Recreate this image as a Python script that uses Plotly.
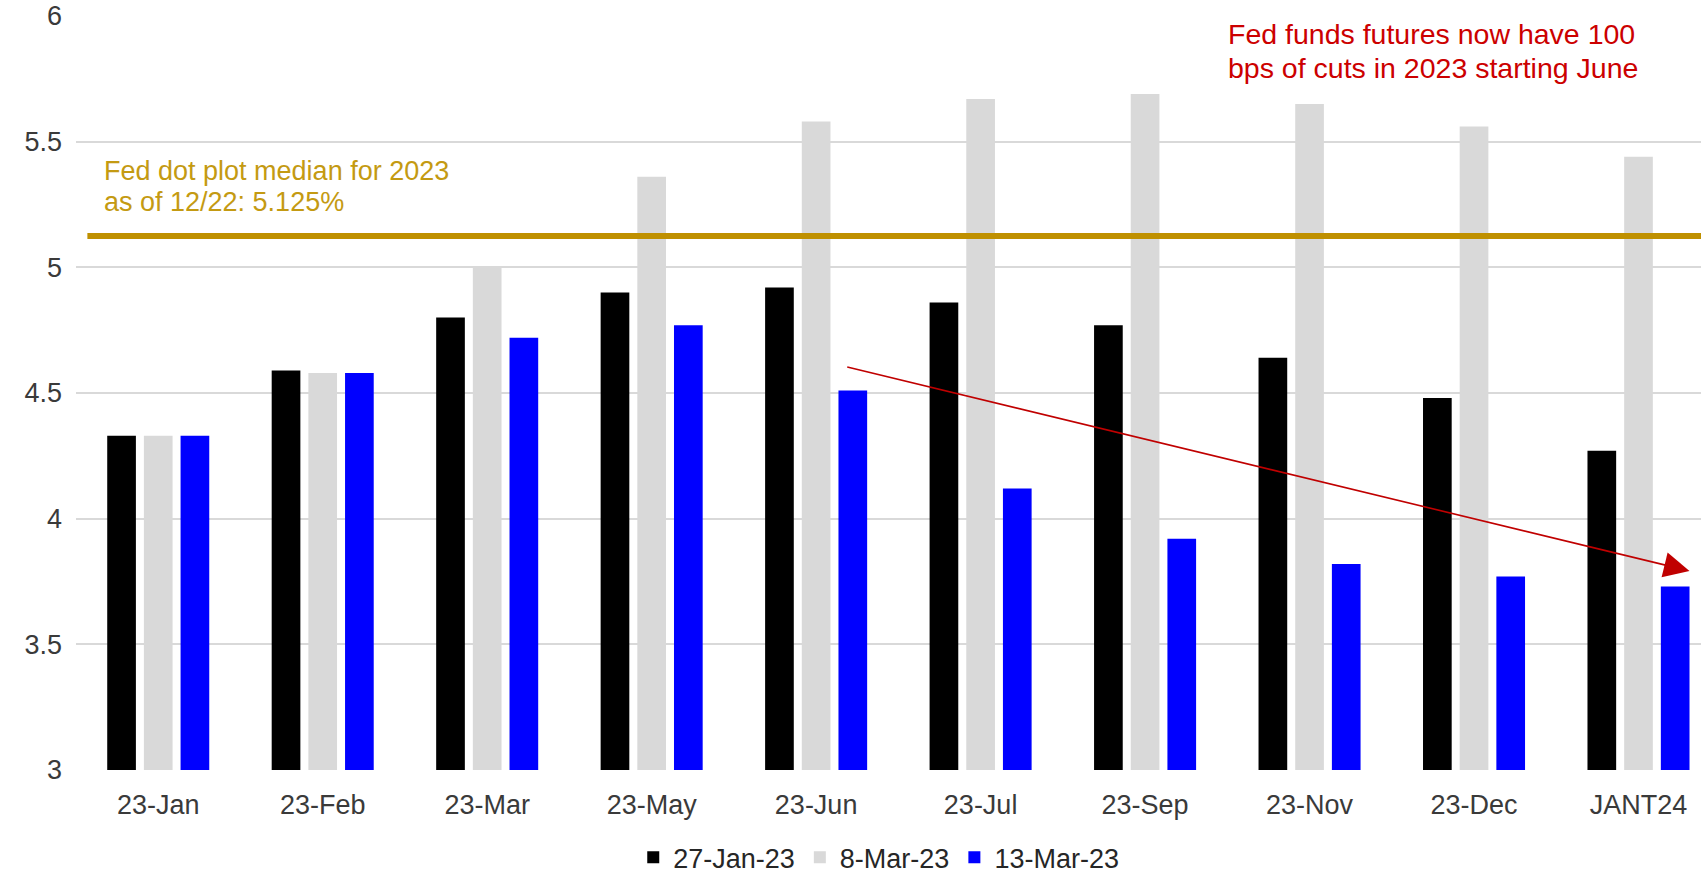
import plotly.graph_objects as go

# Fed funds futures implied rate by meeting month, at three pricing dates
months = ["23-Jan", "23-Feb", "23-Mar", "23-May", "23-Jun",
          "23-Jul", "23-Sep", "23-Nov", "23-Dec", "JANT24"]
rates_27jan = [4.33, 4.59, 4.80, 4.90, 4.92, 4.86, 4.77, 4.64, 4.48, 4.27]
rates_8mar = [4.33, 4.58, 5.00, 5.36, 5.58, 5.67, 5.69, 5.65, 5.56, 5.44]
rates_13mar = [4.33, 4.58, 4.72, 4.77, 4.51, 4.12, 3.92, 3.82, 3.77, 3.73]
series_names = ["27-Jan-23", "8-Mar-23", "13-Mar-23"]
series_colors = ["#000000", "#D9D9D9", "#0000FF"]

dot_plot_median = 5.125
y_ticks = [3, 3.5, 4, 4.5, 5, 5.5, 6]
y_tick_text = ["3", "3.5", "4", "4.5", "5", "5.5", "6"]

# arrow showing the decline in the 13-Mar curve (category index, rate)
arrow_tail = (4.18, 4.605)
arrow_head = (9.31, 3.792)

FONT = "Liberation Sans, Arial, sans-serif"
GOLD = "#BF9000"
RED = "#CC0000"

fig = go.Figure()
for name, vals, color in zip(series_names,
                             [rates_27jan, rates_8mar, rates_13mar],
                             series_colors):
    fig.add_trace(go.Bar(
        x=months, y=vals, name=name,
        marker=dict(color=color, line=dict(width=0)),
        hoverinfo="x+y+name",
    ))

# dot plot median line
fig.add_shape(type="line", xref="paper", yref="y",
              x0=0.007, x1=1.0, y0=dot_plot_median, y1=dot_plot_median,
              line=dict(color=GOLD, width=6), layer="above")

for txt, yy in [("Fed dot plot median for 2023", 0.7944),
                ("as of 12/22: 5.125%", 0.7533)]:
    fig.add_annotation(xref="paper", yref="paper", x=0.0162, y=yy,
                       text=txt, showarrow=False, xanchor="left",
                       yanchor="middle",
                       font=dict(family=FONT, size=27, color="#C49A12"))

for txt, yy in [("Fed funds futures now have 100", 0.9760),
                ("bps of cuts in 2023 starting June", 0.9314)]:
    fig.add_annotation(xref="paper", yref="paper", x=0.7078, y=yy,
                       text=txt, showarrow=False, xanchor="left",
                       yanchor="middle",
                       font=dict(family=FONT, size=28.5, color=RED))

fig.add_annotation(x=arrow_head[0], y=arrow_head[1], xref="x", yref="y",
                   ax=arrow_tail[0], ay=arrow_tail[1], axref="x", ayref="y",
                   text="", showarrow=True, arrowhead=2, arrowsize=3.2,
                   arrowwidth=1.6, arrowcolor="#C00000", standoff=0)

fig.update_layout(
    width=1701, height=873,
    margin=dict(l=76, r=0, t=16, b=103, autoexpand=False),
    paper_bgcolor="white", plot_bgcolor="white",
    barmode="group", bargap=0.331, bargroupgap=0.218,
    font=dict(family=FONT, size=27, color="#3a3a3a"),
    showlegend=True,
    legend=dict(orientation="h", x=0.494, xanchor="center",
                y=-0.1164, yanchor="middle",
                font=dict(family=FONT, size=27, color="#262626"),
                itemwidth=30, bgcolor="rgba(0,0,0,0)"),
    xaxis=dict(range=[-0.5, 9.38], showgrid=False, zeroline=False,
               showline=False, ticks="", ticklabelstandoff=16,
               tickfont=dict(family=FONT, size=27, color="#3a3a3a")),
    yaxis=dict(range=[3, 6], tickvals=y_ticks, ticktext=y_tick_text,
               showgrid=True, gridcolor="#D9D9D9", gridwidth=1.5,
               zeroline=False, showline=False, ticks="",
               ticklabelstandoff=13,
               tickfont=dict(family=FONT, size=27, color="#3a3a3a")),
)

fig.write_html("out.html")
